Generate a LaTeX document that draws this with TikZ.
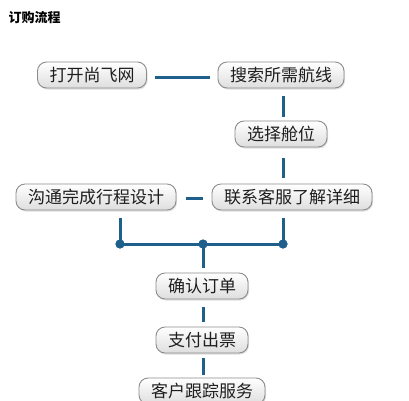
\documentclass[tikz,border=0pt]{standalone}
\usepackage{fontspec}
\newfontfamily\cjk{Noto Sans CJK SC}
\usetikzlibrary{shadows}
\definecolor{linkblue}{HTML}{1F5F8B}
\definecolor{boxborder}{HTML}{8C8C8C}
\definecolor{txtgray}{HTML}{1E1E1E}
\tikzset{
  x=1pt, y=-1pt,
  stepbox/.style={draw=boxborder, line width=0.9pt, rounded corners=9pt,
    top color=white, bottom color=black!13, minimum height=26pt,
    inner xsep=12pt, inner ysep=0pt, font=\cjk\fontsize{17}{17}\selectfont,
    text=txtgray, drop shadow={opacity=0.25, shadow xshift=1pt, shadow yshift=-1.5pt}},
  link/.style={draw=linkblue, line width=3pt},
  joint/.style={circle, fill=linkblue, inner sep=0pt, minimum size=9pt},
}
\begin{document}
\begin{tikzpicture}
\useasboundingbox (0,0) rectangle (409,400);
\node[anchor=west, font=\cjk\bfseries\fontsize{13}{13}\selectfont, text=black] (title) at (5,18) {订购流程};
\node[stepbox] (b1) at (92,75) {打开尚飞网};
\node[stepbox] (b2) at (281,75) {搜索所需航线};
\node[stepbox] (b3) at (281,134) {选择舱位};
\node[stepbox] (b5) at (292,197) {联系客服了解详细};
\node[stepbox] (b4) at (96,197) {沟通完成行程设计};
\node[stepbox] (b6) at (202,286) {确认订单};
\node[stepbox] (b7) at (202,340) {支付出票};
\node[stepbox] (b8) at (202,391) {客户跟踪服务};
\node[joint] (jl) at (120,244) {};
\node[joint] (jm) at (203,244) {};
\node[joint] (jr) at (283,244) {};
\coordinate (l1a) at (155,77); \coordinate (l1b) at (210,77);
\draw[link] (l1a) -- (l1b);
\coordinate (v1a) at (283,96); \coordinate (v1b) at (283,117);
\draw[link] (v1a) -- (v1b);
\coordinate (v2a) at (283,158); \coordinate (v2b) at (283,178);
\draw[link] (v2a) -- (v2b);
\coordinate (h2a) at (186,198); \coordinate (h2b) at (203,198);
\draw[link] (h2a) -- (h2b);
\coordinate (vla) at (120,218); \coordinate (vra) at (283,218);
\draw[link] (vla) -- (jl.center) -- (jr.center) -- (vra);
\coordinate (vm) at (203,268);
\draw[link] (jm.center) -- (vm);
\coordinate (v3a) at (203,307); \coordinate (v3b) at (203,322);
\draw[link] (v3a) -- (v3b);
\coordinate (v4a) at (203,358); \coordinate (v4b) at (203,375);
\draw[link] (v4a) -- (v4b);
\node[joint] at (jl) {};
\node[joint] at (jm) {};
\node[joint] at (jr) {};
\end{tikzpicture}
\end{document}
